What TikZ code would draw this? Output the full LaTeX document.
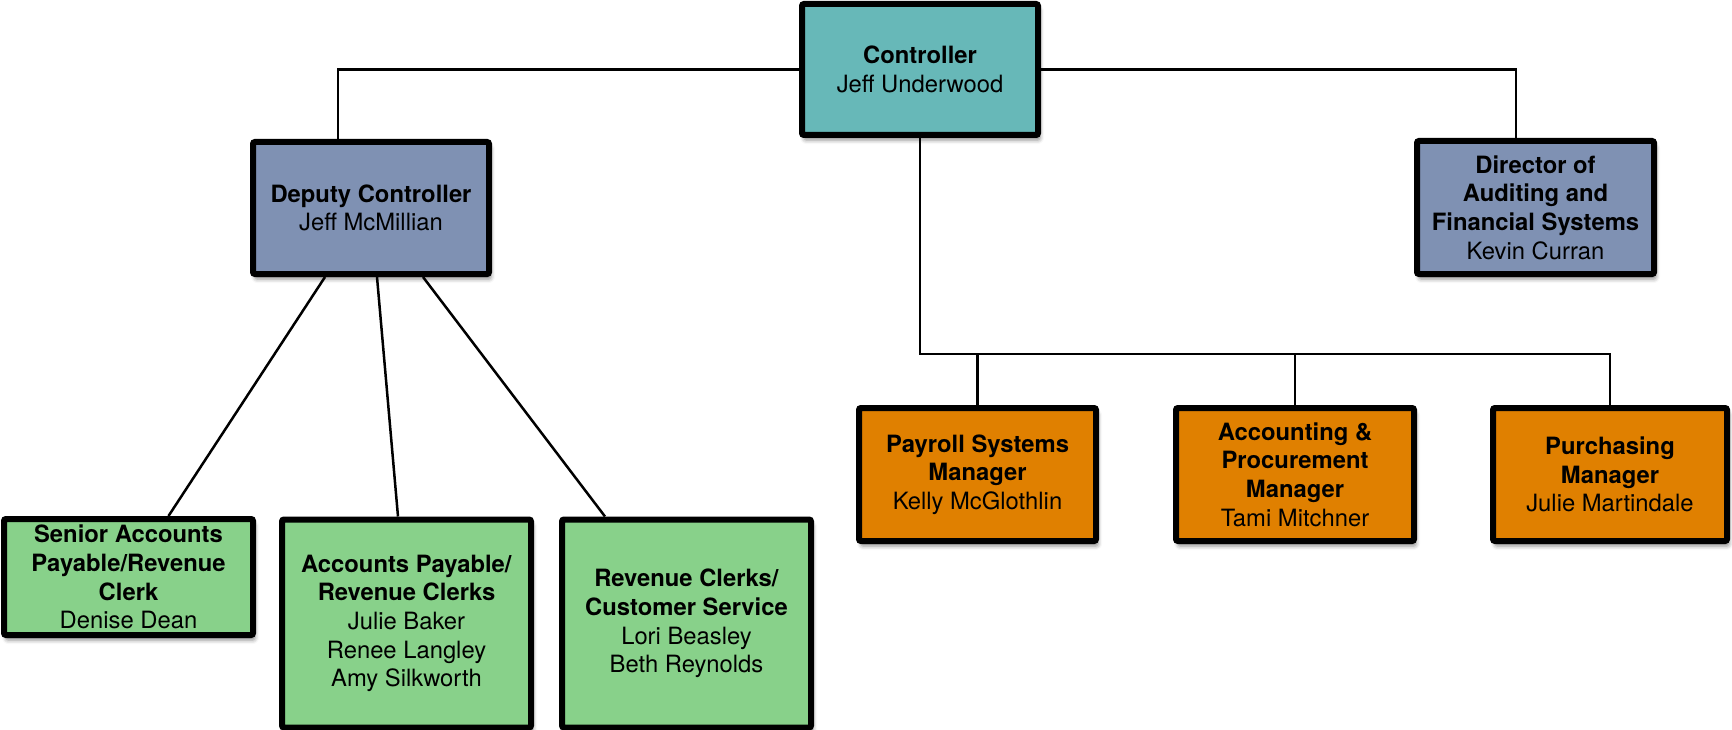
\documentclass[tikz,border=0pt]{standalone}
\usepackage{fontspec}
\setmainfont{TeX Gyre Heros}
\usetikzlibrary{shadows.blur}

\definecolor{tealfill}{RGB}{103,184,184}
\definecolor{slatefill}{RGB}{127,145,179}
\definecolor{greenfill}{RGB}{136,209,138}
\definecolor{orangefill}{RGB}{224,128,0}

\begin{document}
\begin{tikzpicture}[x=1pt,y=-1pt,
  box/.style={draw=black, line width=6pt, rounded corners=2pt, align=center,
    inner sep=0pt, font=\fontsize{23.8}{28.7}\selectfont,
    blur shadow={shadow xshift=2pt, shadow yshift=-5pt,
      shadow blur radius=4pt, shadow opacity=45}},
  wire/.style={draw=black, line width=2.5pt},
]
\useasboundingbox (0,0) rectangle (1732,730);

% top level
\node[box, fill=tealfill, minimum width=236pt, minimum height=131pt]
  (ctrl) at (920,69.5) {\textbf{Controller}\\Jeff Underwood};

% second level
\node[box, fill=slatefill, minimum width=236pt, minimum height=132pt]
  (dep) at (371,208) {\textbf{Deputy Controller}\\Jeff McMillian};
\node[box, fill=slatefill, minimum width=237pt, minimum height=133pt]
  (dir) at (1535.5,207.5) {\textbf{Director of}\\\textbf{Auditing and}\\\textbf{Financial Systems}\\Kevin Curran};

% managers reporting to the controller
\node[box, fill=orangefill, minimum width=237pt, minimum height=133pt]
  (pay) at (977.5,474.5) {\textbf{Payroll Systems}\\\textbf{Manager}\\Kelly McGlothlin};
\node[box, fill=orangefill, minimum width=238pt, minimum height=133pt]
  (acc) at (1295,474.5) {\textbf{Accounting \&}\\\textbf{Procurement}\\\textbf{Manager}\\Tami Mitchner};
\node[box, fill=orangefill, minimum width=234pt, minimum height=133pt]
  (pur) at (1610,474.5) {\textbf{Purchasing}\\\textbf{Manager}\\Julie Martindale};

% clerks reporting to the deputy controller
\node[box, fill=greenfill, minimum width=249pt, minimum height=116pt]
  (sen) at (128.5,577) {\textbf{Senior Accounts}\\\textbf{Payable/Revenue}\\\textbf{Clerk}\\Denise Dean};
\node[box, fill=greenfill, minimum width=249pt, minimum height=208pt]
  (ap) at (406.5,623.5) {\textbf{Accounts Payable/}\\\textbf{Revenue Clerks}\\Julie Baker\\Renee Langley\\Amy Silkworth};
\node[box, fill=greenfill, minimum width=249pt, minimum height=208pt]
  (rev) at (686.5,623.5) {\textbf{Revenue Clerks/}\\\textbf{Customer Service}\\Lori Beasley\\Beth Reynolds};

% elbow points of the connectors
\coordinate (jl) at (338,0);
\coordinate (jr) at (1516,0);
\coordinate (bus) at (0,354);

% connectors
\draw[wire] (ctrl.west) -- (ctrl.west -| jl) -- (jl |- dep.north);
\draw[wire] (ctrl.east) -- (ctrl.east -| jr) -- (jr |- dir.north);
\draw[wire] (ctrl.south) -- (ctrl.south |- bus) -| (pur.north);
\draw[wire] (pay.north) -- (pay.north |- bus);
\draw[wire] (acc.north) -- (acc.north |- bus);

\draw[wire] ([xshift=-46pt]dep.south) -- ([xshift=40pt]sen.north);
\draw[wire] ([xshift=6pt]dep.south) -- ([xshift=-8.5pt]ap.north);
\draw[wire] ([xshift=52pt]dep.south) -- ([xshift=-81.5pt]rev.north);
\end{tikzpicture}
\end{document}
